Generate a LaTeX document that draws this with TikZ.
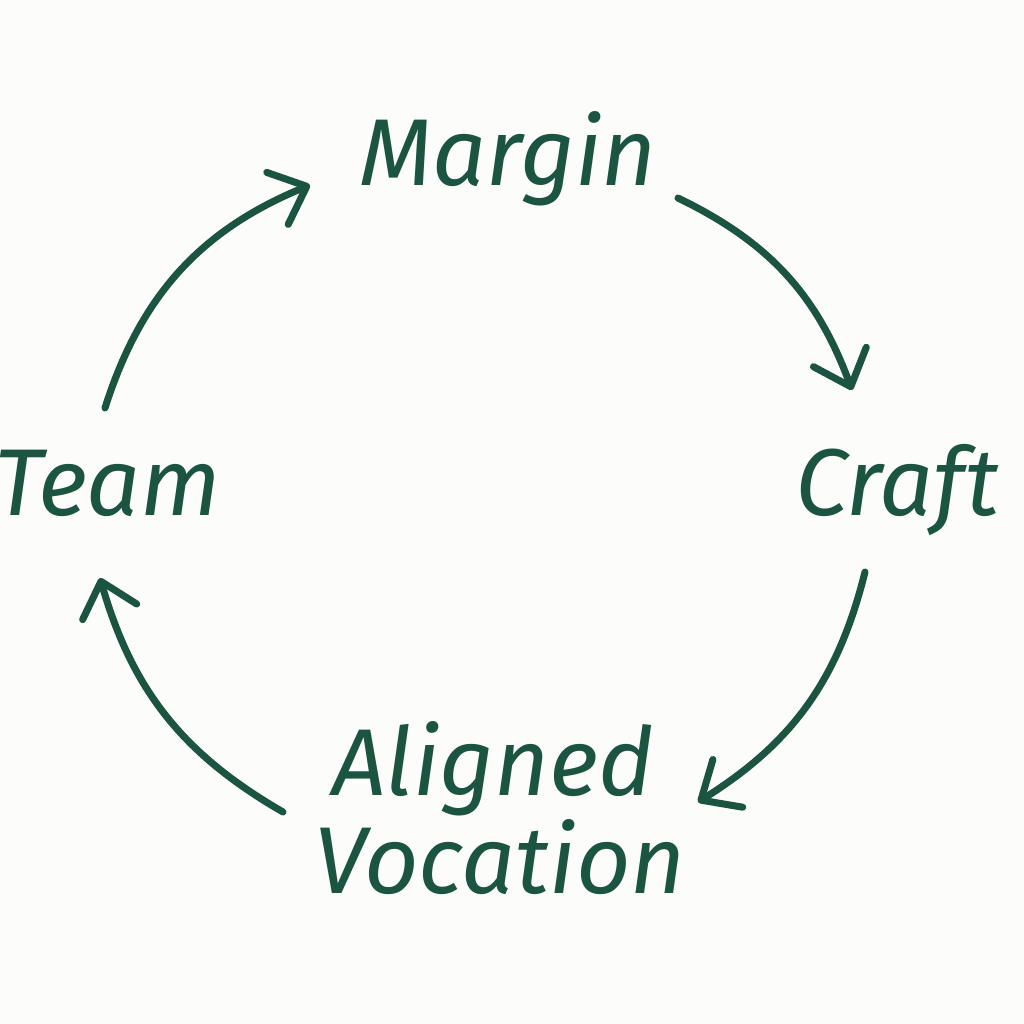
\documentclass[tikz,border=0pt]{standalone}
\usepackage{fontspec}
\setmainfont{Fira Sans}
\usetikzlibrary{arrows.meta}
\definecolor{ink}{HTML}{1B5440}
\definecolor{paper}{HTML}{FCFCFA}
\tikzset{
	word/.style={text=ink, anchor=base, inner sep=0pt, font=\itshape\fontsize{27}{27}\selectfont},
	cycle/.style={ink, line width=2pt, line cap=round, -{Straight Barb[length=9pt,width=16pt,line width=2pt,round]}}
}
\begin{document}
\begin{tikzpicture}[line join=round,line cap=round]
	% --- Khung ---
	\fill[paper] (0,0) rectangle (10.24,-10.24);
	\useasboundingbox (0,0) rectangle (10.24,-10.24);
	
	% --- Các từ ---
	\node[word] (margin) at (5.08,-1.85) {Margin};
	\node[word] (craft) at (8.97,-5.15) {Craft};
	\node[word] (team) at (1.08,-5.15) {Team};
	\node[word] (aligned) at (4.93,-7.95) {Aligned};
	\node[word] (vocation) at (5.00,-8.93) {Vocation};
	
	% --- Điểm đầu, điểm cuối ---
	\coordinate (t1) at (1.05,-4.08);
	\coordinate (m1) at (3.10,-1.85);
	\coordinate (m2) at (6.78,-1.98);
	\coordinate (c1) at (8.52,-3.90);
	\coordinate (c2) at (8.65,-5.72);
	\coordinate (a1) at (6.98,-8.02);
	\coordinate (a2) at (2.83,-8.12);
	\coordinate (t2) at (1.00,-5.78);
	
	% --- Mũi tên ---
	\draw[cycle] (t1) to[bend left=25] (m1);
	\draw[cycle] (m2) to[bend left=22] (c1);
	\draw[cycle] (c2) to[bend left=22] (a1);
	\draw[cycle] (a2) to[bend left=22] (t2);
\end{tikzpicture}
\end{document}
